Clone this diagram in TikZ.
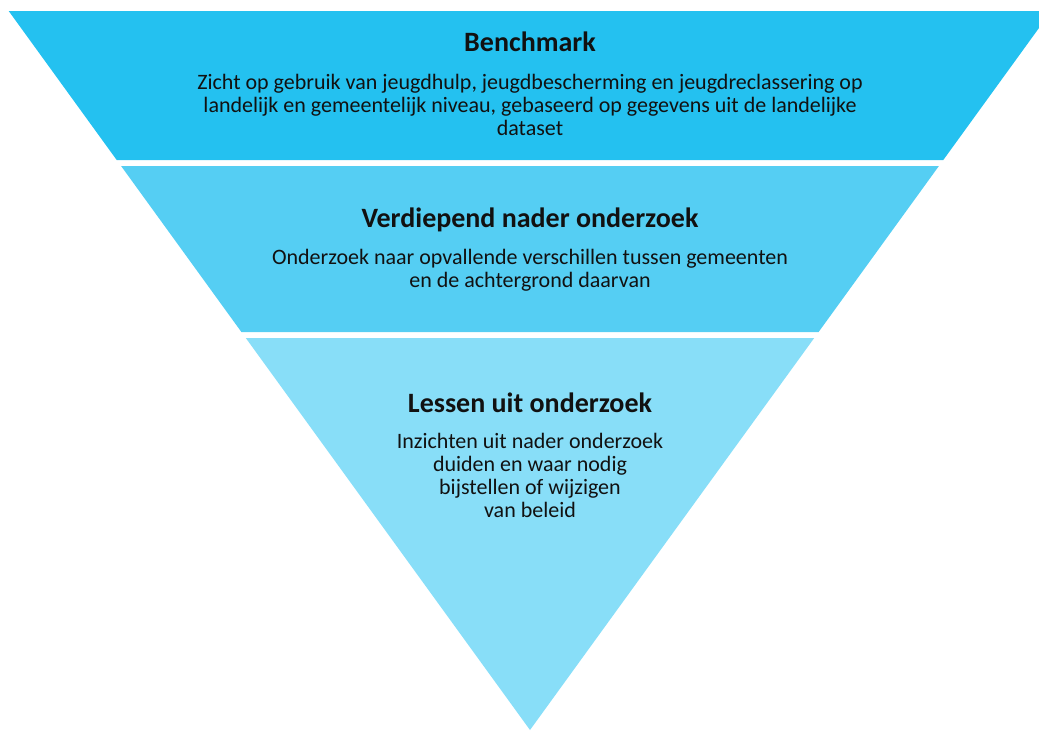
\documentclass[tikz,border=0pt]{standalone}
\usepackage{fontspec}
\setmainfont{Carlito}
\definecolor{bandA}{HTML}{24C1F0}
\definecolor{bandB}{HTML}{55CEF3}
\definecolor{bandC}{HTML}{88DEF8}
\definecolor{ink}{HTML}{111111}
\tikzset{
  title/.style={anchor=base, inner sep=0pt, text=ink, font=\fontsize{28}{30}\selectfont\bfseries},
  body/.style={anchor=base, inner sep=0pt, text=ink, align=center, font=\fontsize{22}{23}\selectfont},
}
\begin{document}
\begin{tikzpicture}[x=1pt,y=-1pt]
\useasboundingbox (0,0) rectangle (1039,731);
\clip (0,0) rectangle (1039,731);
\fill[bandA] (8.7,11) -- (1051.3,11) -- (943.3,160) -- (116.7,160) -- cycle;
\fill[bandB] (121.1,166) -- (938.9,166) -- (818.6,332) -- (241.4,332) -- cycle;
\fill[bandC] (245.8,338) -- (814.2,338) -- (530,730) -- cycle;
% multi-line nodes: base anchor = baseline of the last line
\node[title] (t1) at (530,51) {Benchmark};
\node[body] (b1) at (530,135.5) {Zicht op gebruik van jeugdhulp, jeugdbescherming en jeugdreclassering op\\landelijk en gemeentelijk niveau, gebaseerd op gegevens uit de landelijke\\dataset};
\node[title] (t2) at (530,227) {Verdiepend nader onderzoek};
\node[body] (b2) at (530,287) {Onderzoek naar opvallende verschillen tussen gemeenten\\en de achtergrond daarvan};
\node[title] (t3) at (530,412) {Lessen uit onderzoek};
\node[body] (b3) at (530,517.5) {Inzichten uit nader onderzoek\\duiden en waar nodig\\bijstellen of wijzigen\\van beleid};
\end{tikzpicture}
\end{document}
